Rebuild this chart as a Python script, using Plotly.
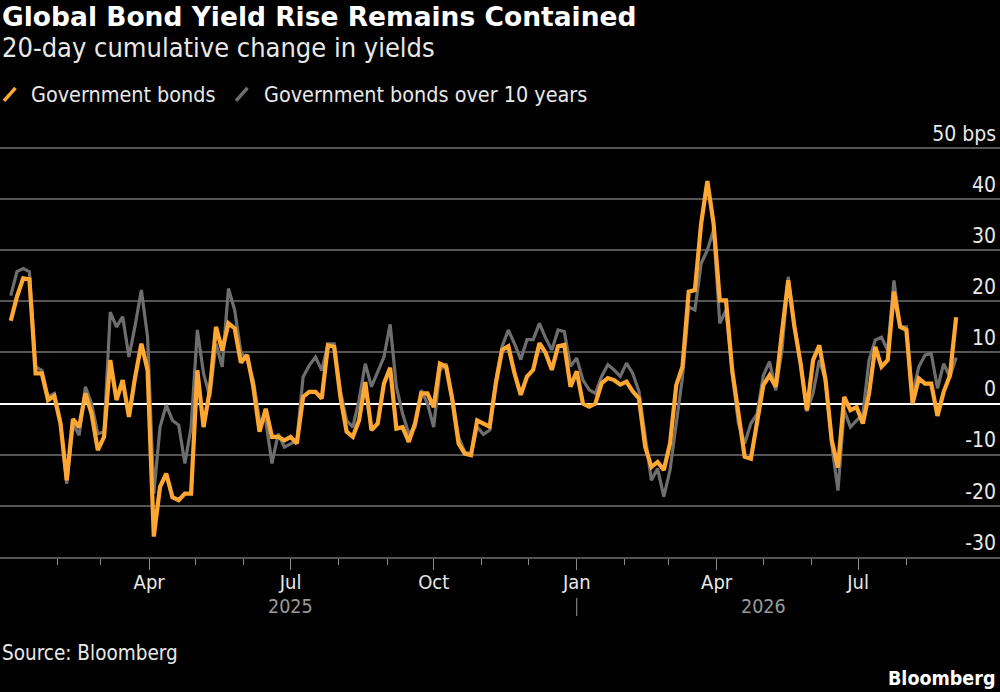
import pandas as pd
import plotly.graph_objects as go

# 20-day cumulative change in yields (bps), every 4 days
dates = pd.date_range('2025-01-02', periods=153, freq='4D')

govt_bonds = [
    16.2, 20.9, 24.5, 24.3, 5.9, 5.9, 0.7, 1.5, -3.9, -15,
    -3, -4.6, 2, -2, -9.1, -6.5, 8.5, 0.7, 4.6, -2.6,
    5.2, 11.7, 6.5, -26, -16.3, -13.7, -18.3, -18.9, -17.6, -17.6,
    6.5, -4.6, 2.6, 15, 10.4, 15.7, 14.7, 8, 9.5, 3.3,
    -5.5, -1, -6.5, -6.5, -7.2, -6.5, -7.8, 1.3, 2.3, 2.3,
    1, 11.4, 11.1, 1.3, -5.5, -6.5, -3.3, 4.2, -5.2, -3.9,
    3.9, 7, -4.9, -4.6, -7.5, -3.9, 2, 2, -0.7, 7.8,
    7.2, 0.7, -7.8, -9.8, -10.1, -3.3, -3.9, -4.5, 4, 10.5,
    11.2, 5.9, 1.7, 5.3, 6.6, 11.8, 9.9, 6.6, 11.2, 11.5,
    3.3, 6.3, 0, -0.6, 0, 4, 5, 4.6, 3.7, 4.3,
    2.4, 1, -8.4, -12.4, -11.4, -13, -7.8, 3.6, 7.2, 21.9,
    22.2, 35.2, 43.5, 35.2, 20.2, 20.2, 6.5, -2, -10.4, -10.8,
    -3.9, 3.6, 5.5, 3.3, 14, 24.1, 15, 7.8, -1.3, 8.5,
    11.4, 4.6, -7.2, -12.5, 1.3, -1.3, -0.7, -3.9, 2, 11.1,
    7.2, 8.5, 21.9, 15, 14.4, 0, 4.9, 3.9, 3.9, -2.4,
    2.3, 5.5, 16.9,
]

govt_bonds_10y = [
    21.1, 25.8, 26.4, 25.8, 7.2, 6.5, 1.3, 2, -3.5, -15.7,
    -4, -6.2, 3.3, 0, -5.9, -5.5, 17.9, 15, 17, 9.1,
    15.3, 22.2, 13, -17.6, -4.6, -0.3, -3.3, -4.2, -11.7, -4.6,
    14.4, 5.9, 1.3, 11.7, 7.2, 22.5, 18.3, 10, 8.5, 4.6,
    -3.3, -3.3, -11.7, -5.9, -8.5, -7.8, -7.2, 5.2, 7.5, 9.1,
    6.5, 11.7, 11.7, 2.6, -3.3, -4.6, 0.7, 7.8, 3.3, 6.2,
    9.1, 15.5, 3.3, -2, -5.9, -4.6, 2.6, 0, -4.6, 6.5,
    7.8, 1.3, -6.5, -9.5, -9.8, -4.6, -6, -5.2, 4.6, 11.2,
    14.4, 11.7, 8.6, 12.5, 12.5, 15.7, 12.8, 10.5, 14.4, 14.1,
    7.3, 8.9, 4.6, 2.7, 2, 5.3, 7.6, 6.6, 5.3, 7.9,
    5.9, 2.4, -5.8, -15, -12.7, -18.2, -13, -3.3, 5.2, 18.9,
    18.3, 27.4, 30, 34, 15.7, 18.3, 5.9, -3.9, -7.8, -3.9,
    -2, 5.5, 8.2, 2.6, 10.4, 24.8, 15.3, 7.8, -1.5, 2,
    8.5, 4.6, -8, -17, -1.3, -4.6, -3.3, -2, 8.5, 12.4,
    13, 10.4, 24.1, 15, 15, 2, 7.2, 9.5, 9.8, 3,
    7.8, 5.2, 9,
]

tick_dates = ['2025-04-01', '2025-07-01', '2025-10-01', '2026-01-01', '2026-04-01', '2026-07-01']
tick_labels = ['Apr', 'Jul', 'Oct', 'Jan', 'Apr', 'Jul']
minor_dates = pd.date_range('2025-02-01', '2026-09-01', freq='MS')
year_labels = ['2025', '2026']
year_dates = ['2025-07-01', '2026-05-01']
y_ticks = [-30, -20, -10, 0, 10, 20, 30, 40, 50]
y_labels = ['-30', '-20', '-10', '0', '10', '20', '30', '40', '50 bps']
series_names = ['Government bonds', 'Government bonds over 10 years']

ORANGE = '#ffa733'
GREY = '#6e6e6e'
FONT = 'DejaVu Sans Condensed, DejaVu Sans, sans-serif'
TITLE_FONT = 'DejaVu Sans, sans-serif'
TEXT = '#e8e8e8'

# plot area: y range top (58) sits at row 107.1, bottom (-30) at row 557 -> 50 lands on row 148
Y_TOP = 58
TOP, BOTTOM = 107.1, 557


def py(ypx):
    # pixel row -> paper coordinate
    return (BOTTOM - ypx) / (BOTTOM - TOP)


fig = go.Figure()

# grey underneath, orange on top
fig.add_trace(go.Scatter(x=dates, y=govt_bonds_10y, mode='lines', name=series_names[1],
                         showlegend=False, line=dict(color=GREY, width=3.2)))
fig.add_trace(go.Scatter(x=dates, y=govt_bonds, mode='lines', name=series_names[0],
                         showlegend=False, line=dict(color=ORANGE, width=4.2)))

annotations = [
    dict(text='<b>Global Bond Yield Rise Remains Contained</b>', x=0, y=py(17),
         font=dict(size=26.5, color='white', family=TITLE_FONT)),
    dict(text='20-day cumulative change in yields', x=0, y=py(48),
         font=dict(size=27, color=TEXT)),
    dict(text=series_names[0], x=0.029, y=py(95), font=dict(size=21.4, color=TEXT)),
    dict(text=series_names[1], x=0.262, y=py(95), font=dict(size=21.4, color=TEXT)),
    dict(text='Source: Bloomberg', x=0, y=py(653), font=dict(size=20.5, color=TEXT)),
    dict(text='<b>Bloomberg</b>', x=1, xanchor='right', xshift=-3, y=py(678),
         font=dict(size=19.5, color='white')),
]
for a in annotations:
    a.setdefault('xanchor', 'left')
    a.update(xref='paper', yref='paper', yanchor='middle', showarrow=False)

for label, d in zip(year_labels, year_dates):
    annotations.append(dict(text=label, x=d, xref='x', y=py(606), yref='paper', yanchor='middle',
                            showarrow=False, font=dict(size=19.5, color='#9a9a9a')))

shapes = [
    # year separator under Jan
    dict(type='line', xref='x', yref='paper', x0='2026-01-01', x1='2026-01-01',
         y0=py(598), y1=py(616), line=dict(color='#9a9a9a', width=1)),
    # legend slashes
    dict(type='line', xref='paper', yref='paper', x0=0.004, x1=0.0155, y0=py(101), y1=py(88),
         line=dict(color=ORANGE, width=3.5)),
    dict(type='line', xref='paper', yref='paper', x0=0.236, x1=0.2475, y0=py(101), y1=py(88),
         line=dict(color=GREY, width=3.5)),
]

fig.update_layout(
    width=1000, height=692,
    paper_bgcolor='black', plot_bgcolor='black',
    margin=dict(l=0, r=0, t=TOP, b=692 - BOTTOM),
    font=dict(family=FONT, color=TEXT),
    showlegend=False,
    annotations=annotations,
    shapes=shapes,
    xaxis=dict(type='date', range=['2024-12-26 02:00', '2026-09-30 05:00'],
               tickmode='array', tickvals=tick_dates, ticktext=tick_labels,
               ticks='outside', ticklen=11, tickcolor='#8a8a8a', tickwidth=1,
               ticklabelstandoff=-5,
               showline=True, linecolor='#555555', linewidth=1.5,
               showgrid=False, zeroline=False,
               tickfont=dict(size=20, color=TEXT),
               minor=dict(tickmode='array', tickvals=minor_dates, ticks='outside',
                          ticklen=6, tickcolor='#8a8a8a', tickwidth=1, showgrid=False)),
    yaxis=dict(side='right', range=[-30, Y_TOP], tickmode='array', tickvals=y_ticks, ticktext=y_labels,
               ticklabelposition='inside top', ticks='', ticklabelstandoff=1,
               showgrid=True, gridcolor='#555555', gridwidth=1.5,
               zeroline=True, zerolinecolor='white', zerolinewidth=2,
               tickfont=dict(size=21, color=TEXT)),
)

fig.write_html('out.html', config={'displayModeBar': False},
               post_script="document.body.style.margin='0';document.body.style.overflow='hidden';")
